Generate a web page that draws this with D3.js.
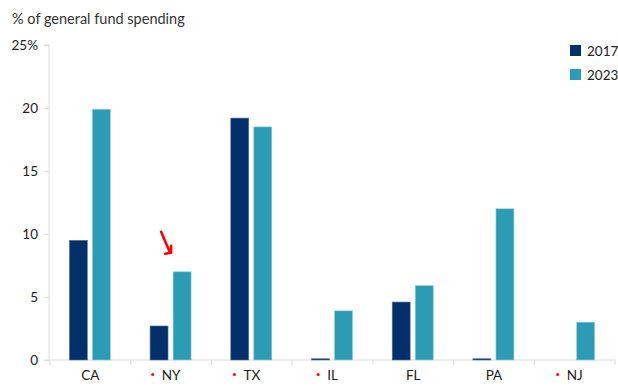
<!DOCTYPE html>
<html>
<head>
<meta charset="utf-8">
<script src="https://cdn.jsdelivr.net/npm/d3@7"></script>
<style>
  body { margin: 0; background: #fff; }
  svg text { font-family: Lato, "Open Sans", sans-serif; fill: #222; }
</style>
</head>
<body>
<div id="chart"></div>
<script>
const states = ['CA', 'NY', 'TX', 'IL', 'FL', 'PA', 'NJ'];
const flagged = ['NY', 'TX', 'IL', 'NJ'];
const years = ['2017', '2023'];
const share2017 = [9.5, 2.7, 19.2, 0.1, 4.6, 0.1, 0];
const share2023 = [19.9, 7.0, 18.5, 3.9, 5.9, 12.0, 3.0];
const yTicks = [0, 5, 10, 15, 20, 25];

const colors = { '2017': '#03306b', '2023': '#2c9cb4' };
const width = 618, height = 392;
const margin = { top: 45, right: 3, bottom: 32, left: 50 };

const svg = d3.select('#chart').append('svg')
  .attr('width', width).attr('height', height);

const x = d3.scaleBand().domain(states)
  .range([margin.left, width - margin.right]);
const xSub = d3.scaleBand().domain(years)
  .range([x.bandwidth() / 2 - 21, x.bandwidth() / 2 + 20]).paddingInner(0.22);
const y = d3.scaleLinear().domain([0, 25])
  .range([height - margin.bottom, margin.top]);

const rows = states.map((s, i) => ({ state: s, '2017': share2017[i], '2023': share2023[i] }));

// title
svg.append('text').attr('x', 12).attr('y', 24)
  .attr('font-size', 14.5).style('fill', '#333')
  .text('% of general fund spending');

// y axis: thin light line with small ticks, no gridlines
const yAxis = svg.append('g').attr('transform', `translate(${margin.left - 1},0)`)
  .call(d3.axisLeft(y).tickValues(yTicks).tickSize(5).tickPadding(6)
    .tickFormat(d => d === 25 ? '25%' : d));
yAxis.selectAll('line, path').attr('stroke', '#dcdcdc');
yAxis.select('.domain').attr('d', `M-5,${y(25)}H0V${y(0)}`);
yAxis.selectAll('text').attr('font-size', 13.5).style('fill', '#222');

// x axis: boundary ticks between categories
const xAxis = svg.append('g').attr('transform', `translate(0,${y(0)})`);
xAxis.append('line').attr('x1', margin.left - 5).attr('x2', width - margin.right)
  .attr('stroke', '#dcdcdc');
const edges = states.map(s => x(s)).concat([x(states[states.length - 1]) + x.bandwidth()]);
xAxis.selectAll('.edge').data(edges).join('line').attr('class', 'edge')
  .attr('x1', d => d).attr('x2', d => d).attr('y1', 0).attr('y2', 5)
  .attr('stroke', '#dcdcdc');

const labels = xAxis.selectAll('.lbl').data(states).join('g').attr('class', 'lbl')
  .attr('transform', d => `translate(${x(d) + x.bandwidth() / 2},0)`);
labels.append('text').attr('y', 20).attr('text-anchor', 'middle')
  .attr('font-size', 13.5).text(d => d);
labels.each(function(d) {
  if (!flagged.includes(d)) return;
  const g = d3.select(this);
  const box = g.select('text').node().getBBox();
  g.append('circle').attr('cx', box.x - 9).attr('cy', 14.5).attr('r', 1.6)
    .attr('fill', '#ff1010');
});

// bars
const groups = svg.append('g').selectAll('g').data(rows).join('g')
  .attr('transform', d => `translate(${x(d.state)},0)`);
groups.selectAll('rect').data(d => years.map(yr => ({ yr, v: d[yr] }))).join('rect')
  .attr('x', d => xSub(d.yr))
  .attr('width', xSub.bandwidth())
  .attr('y', d => y(d.v))
  .attr('height', d => y(0) - y(d.v))
  .attr('fill', d => colors[d.yr])
  .attr('stroke', d => d.v > 0 ? (d.yr === '2017' ? '#5a76a0' : '#8fcfdc') : 'none')
  .attr('stroke-width', 0.6);

// legend
const legend = svg.append('g').attr('transform', 'translate(570,45)');
legend.selectAll('g').data(years).join('g')
  .attr('transform', (d, i) => `translate(0,${i * 24})`)
  .each(function(d) {
    const g = d3.select(this);
    g.append('rect').attr('width', 11).attr('height', 11).attr('fill', colors[d]);
    g.append('text').attr('x', 17).attr('y', 10.5).attr('font-size', 13.5).text(d);
  });

// hand-drawn red arrow pointing at NY 2023
const nyTop = y(share2023[1]);
const ax = x('NY') + xSub('2023');
svg.append('path')
  .attr('d', `M${ax - 12},${nyTop - 40} L${ax - 3},${nyTop - 19} M${ax - 8},${nyTop - 18} L${ax - 2},${nyTop - 19} L${ax - 2},${nyTop - 26}`)
  .attr('fill', 'none').attr('stroke', '#ff0000').attr('stroke-width', 2.6)
  .attr('stroke-linecap', 'round').attr('stroke-linejoin', 'round');
</script>
</body>
</html>
